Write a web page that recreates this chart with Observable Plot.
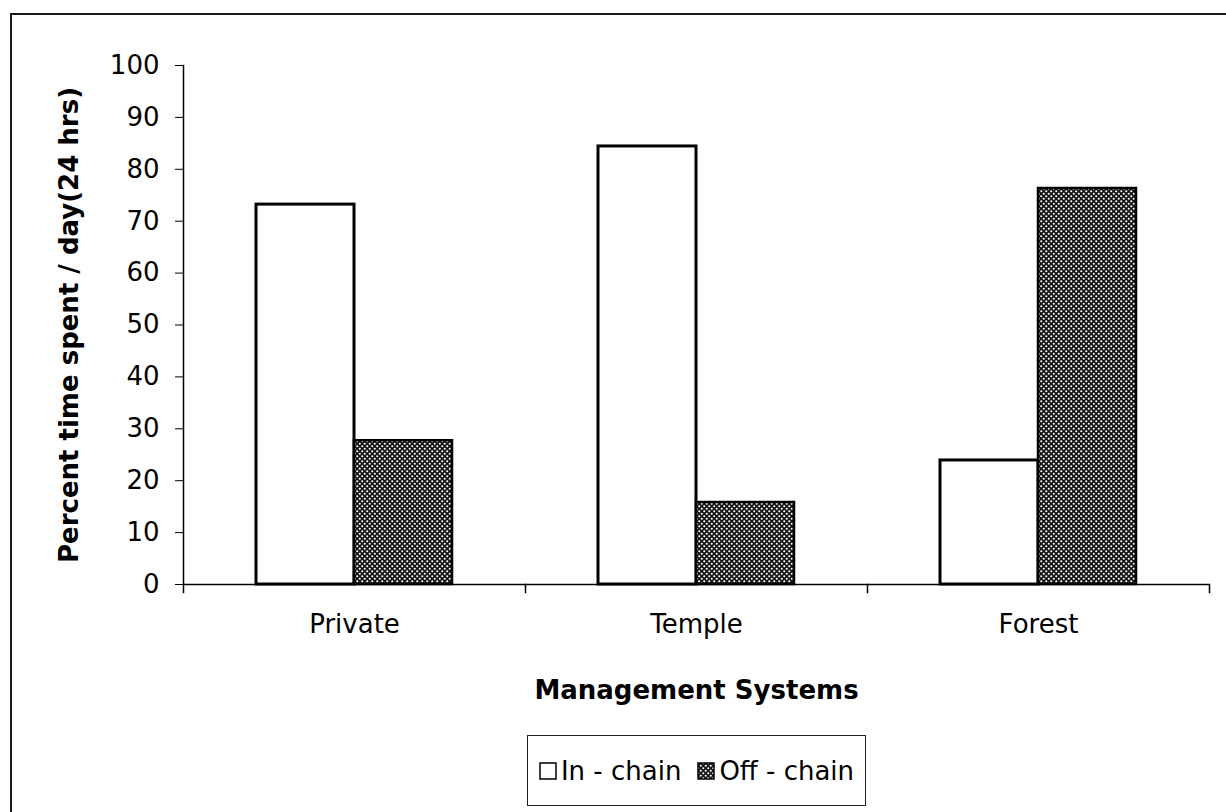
<!DOCTYPE html>
<html>
<head>
<meta charset="utf-8">
<script src="https://cdn.jsdelivr.net/npm/d3@7"></script>
<script src="https://cdn.jsdelivr.net/npm/@observablehq/plot@0.6"></script>
<style>
  html, body { margin: 0; padding: 0; background: #fff; overflow: hidden; width: 1226px; height: 812px; }
  #border { position: absolute; left: 10px; top: 13px; width: 1260px; height: 900px; border: 2px solid #1a1a1a; }
  #chart { position: absolute; left: 0; top: 0; }
  #chart svg [aria-label="y-axis label"], #chart svg [aria-label="fx-axis label"] { font-weight: bold; }
  #legend { position: absolute; left: 527px; top: 735px; width: 337px; height: 69px; border: 1.5px solid #222;
            display: flex; align-items: center; justify-content: center; gap: 0;
            font-family: "DejaVu Sans", sans-serif; font-size: 26px; color: #000; box-sizing: content-box; }
  #legend .item { display: flex; align-items: center; margin: 0 8px; white-space: nowrap; }
  #legend svg { margin-right: 4px; }
</style>
</head>
<body>
<div id="border"></div>
<div id="chart"></div>
<div id="legend"></div>
<script>
const categories = ["Private", "Temple", "Forest"];
const seriesNames = ["In - chain", "Off - chain"];
const inChain = [73.2, 84.4, 23.9];
const offChain = [27.7, 15.8, 76.3];
const yTicks = [0, 10, 20, 30, 40, 50, 60, 70, 80, 90, 100];
const yLabel = "Percent time spent / day(24 hrs)";
const xLabel = "Management Systems";

const inData = categories.map((c, i) => ({category: c, series: seriesNames[0], value: inChain[i]}));
const offData = categories.map((c, i) => ({category: c, series: seriesNames[1], value: offChain[i]}));

const chart = Plot.plot({
  width: 1226,
  height: 720,
  marginLeft: 182,
  marginRight: 16,
  marginTop: 65,
  marginBottom: 136,
  style: {fontFamily: '"DejaVu Sans", sans-serif', fontSize: "26px", color: "#000", background: "transparent", overflow: "visible"},
  fx: {domain: categories, padding: 0},
  x: {domain: seriesNames, paddingInner: 0, paddingOuter: 0.73, axis: null},
  y: {domain: [0, 100]},
  marks: [
    Plot.barY(inData, {fx: "category", x: "series", y: "value", fill: "#ffffff", stroke: "#000", strokeWidth: 3}),
    Plot.barY(offData, {fx: "category", x: "series", y: "value", fill: "url(#offchainPattern)", stroke: "#000", strokeWidth: 2.5}),
    Plot.ruleY([0], {stroke: "#000", strokeWidth: 1.5}),
    Plot.frame({anchor: "left", facetAnchor: "left", stroke: "#000", strokeWidth: 1.5}),
    Plot.frame({anchor: "left", insetTop: 519, insetBottom: -8, stroke: "#000", strokeWidth: 1.5}),
    Plot.frame({anchor: "right", facetAnchor: "right", insetTop: 519, insetBottom: -8, stroke: "#000", strokeWidth: 1.5}),
    Plot.axisY({ticks: yTicks, tickSize: 8, tickPadding: 16, fontSize: 26, label: yLabel, labelAnchor: "center", labelArrow: "none", labelOffset: 124}),
    Plot.axisFx({anchor: "bottom", tickSize: 0, tickPadding: 30, fontSize: 26, label: xLabel, labelAnchor: "center", labelArrow: "none", labelOffset: 114})
  ]
});

// pattern for the Off - chain bars
const defs = d3.select(chart).insert("defs", ":first-child");
const pat = defs.append("pattern")
  .attr("id", "offchainPattern")
  .attr("patternUnits", "userSpaceOnUse")
  .attr("width", 5).attr("height", 5);
pat.append("rect").attr("width", 5).attr("height", 5).attr("fill", "#161616");
pat.append("circle").attr("cx", 1.25).attr("cy", 1.25).attr("r", 1.05).attr("fill", "#fff");
pat.append("circle").attr("cx", 3.75).attr("cy", 3.75).attr("r", 1.05).attr("fill", "#fff");

document.getElementById("chart").appendChild(chart);

// legend
const legend = d3.select("#legend");
const swatchFills = ["#ffffff", "url(#offchainPattern)"];
seriesNames.forEach((name, i) => {
  const item = legend.append("div").attr("class", "item");
  const sw = item.append("svg").attr("width", 18).attr("height", 18);
  sw.append("rect").attr("x", 1).attr("y", 1).attr("width", 16).attr("height", 16)
    .attr("fill", swatchFills[i]).attr("stroke", "#000").attr("stroke-width", 1.5);
  item.append("span").text(name);
});
</script>
</body>
</html>
